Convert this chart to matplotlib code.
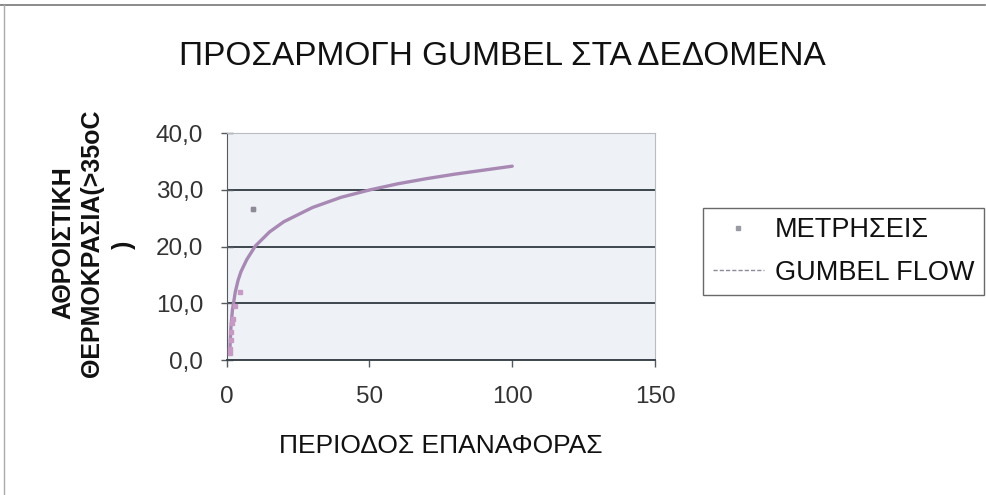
import matplotlib
matplotlib.use("Agg")
import matplotlib.pyplot as plt
from matplotlib.lines import Line2D
from matplotlib.ticker import FuncFormatter

plt.rcParams['font.family'] = ['Liberation Sans', 'DejaVu Sans']

# observed cumulative temperatures vs return period
obs_T = [1.1, 1.2, 1.35, 1.5, 1.8, 2.2, 3.0, 4.5, 9.2]
obs_y = [1.2, 2.0, 3.5, 5.0, 6.5, 7.2, 9.5, 12.0, 26.6]

# fitted gumbel curve
fit_T = [1.1, 1.2, 1.5, 2, 3, 4, 5, 7, 10, 15, 20, 30, 40, 50, 60, 70, 80, 90, 100]
fit_y = [1.4, 3.1, 6.0, 8.8, 12.0, 14.1, 15.6, 17.7, 20.1, 22.6, 24.4, 26.9, 28.7, 30.0,
         31.1, 32.0, 32.8, 33.5, 34.2]

x_ticks = [0, 50, 100, 150]
y_ticks = [0, 10, 20, 30, 40]

fig = plt.figure(figsize=(9.87, 4.95), dpi=100)
ax = fig.add_axes([0.2297, 0.2727, 0.4339, 0.458])
ax.set_facecolor('#eef2f6')

ax.plot(fit_T, fit_y, color='#a889b4', lw=2.4, solid_capstyle='round', zorder=3)
ax.plot(obs_T, obs_y, ls='none', marker='s', ms=3.5, mfc='#c79ac4', mec='#c79ac4', zorder=4)
# the far point shows grey
ax.plot(obs_T[-1:], obs_y[-1:], ls='none', marker='s', ms=3.5, mfc='#8c8c96', mec='#8c8c96', zorder=4)

ax.set_xlim(0, 150)
ax.set_ylim(0, 40)
ax.set_xticks(x_ticks)
ax.set_yticks(y_ticks)
ax.yaxis.set_major_formatter(FuncFormatter(lambda v, p: f'{v:.1f}'.replace('.', ',')))
ax.grid(axis='y', color='#3c464c', lw=1.4)
ax.set_axisbelow(True)
ax.tick_params(axis='y', direction='inout', length=8, width=1, color='#555a60',
               labelsize=17.5, labelcolor='#333333', pad=13)
ax.tick_params(axis='x', direction='out', length=5, width=1, color='#555a60',
               labelsize=17.5, labelcolor='#333333', pad=14)
for s in ['top', 'right']:
    ax.spines[s].set_color('#b8bcc0')
    ax.spines[s].set_linewidth(0.8)
ax.spines['left'].set_color('#555a60')
ax.spines['bottom'].set_color('#3c464c')
ax.spines['bottom'].set_linewidth(1.4)

fig.text(0.447, 0.099, 'ΠΕΡΙΟΔΟΣ ΕΠΑΝΑΦΟΡΑΣ', ha='center', va='center',
         fontsize=19, color='#111111')

fig.text(0.509, 0.885, 'ΠΡΟΣΑΡΜΟΓΗ GUMBEL ΣΤΑ ΔΕΔΟΜΕΝΑ', ha='center', va='center',
         fontsize=24, color='#111111')

# y label, wrapped onto three lines
fig.text(0.064, 0.509, 'ΑΘΡΟΙΣΤΙΚΗ', rotation=90, ha='center', va='center',
         fontsize=18, fontweight='bold', color='#111111')
fig.text(0.093, 0.509, 'ΘΕΡΜΟΚΡΑΣΙΑ(>35oC', rotation=90, ha='center', va='center',
         fontsize=18, fontweight='bold', color='#111111')
fig.text(0.126, 0.505, ')', rotation=90, ha='center', va='center',
         fontsize=18, fontweight='bold', color='#111111')

handles = [
    Line2D([], [], ls='none', marker='s', ms=3.5, mfc='#9a9aa4', mec='#9a9aa4'),
    Line2D([], [], color='#8a8a9a', lw=1, ls=(0, (3, 1.5))),
]
leg = fig.legend(handles, ['ΜΕΤΡΗΣΕΙΣ', 'GUMBEL FLOW'], loc='upper left',
                 bbox_to_anchor=(0.7123, 0.5798), fontsize=19.5, frameon=True, fancybox=False,
                 handlelength=1.9, handletextpad=0.4, borderpad=0.35, labelspacing=0.6,
                 borderaxespad=0)
leg.get_frame().set_edgecolor('#444444')
leg.get_frame().set_linewidth(1)
for t in leg.get_texts():
    t.set_color('#111111')

# outer chart frame
fig.add_artist(Line2D([0, 0.998], [0.99, 0.99], color='#777777', lw=1.2))
fig.add_artist(Line2D([0.004, 0.004], [0, 0.99], color='#aaaaaa', lw=1))

fig.savefig('out.png', dpi=100)
